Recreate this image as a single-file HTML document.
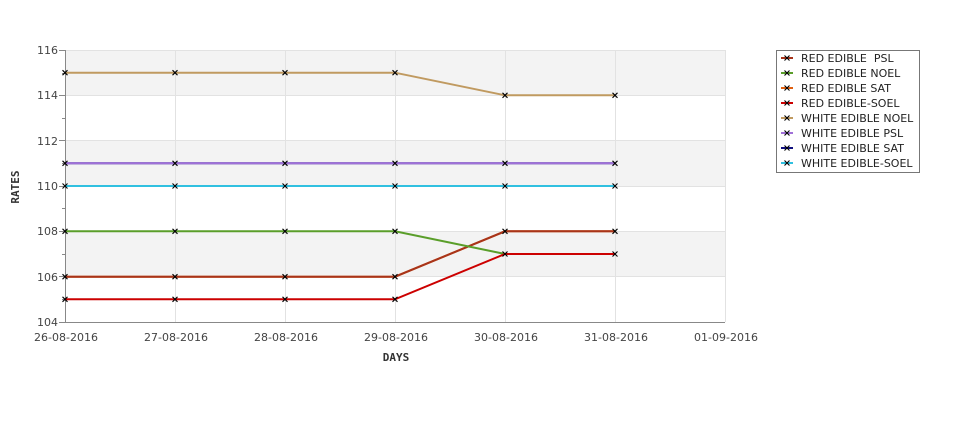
<!DOCTYPE html>
<html><head><meta charset="utf-8"><style>
html,body{margin:0;padding:0;background:#fff;}
svg{display:block;font-family:"DejaVu Sans","Liberation Sans",sans-serif;}
</style></head><body>
<svg width="975" height="429" viewBox="0 0 975 429" xmlns="http://www.w3.org/2000/svg">
<defs>
<g id="m"><path d="M-2.5,-2.5L2.5,2.5M-2.5,2.5L2.5,-2.5" stroke="#000" stroke-width="1.1" fill="none"/></g>
</defs>
<!-- plot background bands -->
<rect x="65" y="50" width="660" height="272" fill="#fff"/>
<rect x="65" y="50" width="660" height="45.3" fill="#f3f3f3"/>
<rect x="65" y="140.7" width="660" height="45.3" fill="#f3f3f3"/>
<rect x="65" y="231.3" width="660" height="45.3" fill="#f3f3f3"/>
<!-- grid -->
<g stroke="#e2e2e2" stroke-width="1" fill="none">
<path d="M65.5,50.5H725.5V322"/>
<path d="M65,95.5H725M65,140.5H725M65,186.5H725M65,231.5H725M65,276.5H725"/>
<path d="M175.5,50V322M285.5,50V322M395.5,50V322M505.5,50V322M615.5,50V322"/>
</g>
<!-- axes -->
<g stroke="#888" stroke-width="1" fill="none">
<path d="M65.5,50V322.5H725"/>
<path d="M59,50.5H65M59,95.5H65M59,140.5H65M59,186.5H65M59,231.5H65M59,276.5H65M59,322.5H65"/>
<path d="M62,73.5H65M62,118.5H65M62,163.5H65M62,208.5H65M62,254.5H65M62,299.5H65"/>
</g>
<!-- y labels -->
<g font-size="11" fill="#444" text-anchor="end">
<text x="58" y="54">116</text>
<text x="58" y="99">114</text>
<text x="58" y="145">112</text>
<text x="58" y="190">110</text>
<text x="58" y="235">108</text>
<text x="58" y="281">106</text>
<text x="58" y="326">104</text>
</g>
<!-- x labels -->
<g font-size="11" fill="#444" text-anchor="middle">
<text x="66" y="341">26-08-2016</text>
<text x="176" y="341">27-08-2016</text>
<text x="286" y="341">28-08-2016</text>
<text x="396" y="341">29-08-2016</text>
<text x="506" y="341">30-08-2016</text>
<text x="616" y="341">31-08-2016</text>
<text x="726" y="341">01-09-2016</text>
</g>
<text x="396" y="361" font-size="11" font-weight="bold" fill="#333" text-anchor="middle" font-family="DejaVu Sans Mono,monospace">DAYS</text>
<text transform="translate(19,187) rotate(-90)" font-size="11" font-weight="bold" fill="#333" text-anchor="middle" font-family="DejaVu Sans Mono,monospace">RATES</text>
<!-- series -->
<g fill="none" stroke-width="2">
<polyline stroke="#e06010" points="65,276.7 175,276.7 285,276.7 395,276.7 505,231.3 615,231.3"/>
<polyline stroke="#a8341a" points="65,276.7 175,276.7 285,276.7 395,276.7 505,231.3 615,231.3"/>
<polyline stroke="#5a9e2a" points="65,231.3 175,231.3 285,231.3 395,231.3 505,254 615,254"/>
<polyline stroke="#cc0000" points="65,299.3 175,299.3 285,299.3 395,299.3 505,254 615,254"/>
<polyline stroke="#c09a60" points="65,72.7 175,72.7 285,72.7 395,72.7 505,95.3 615,95.3"/>
<polyline stroke="#101080" points="65,163.3 175,163.3 285,163.3 395,163.3 505,163.3 615,163.3"/>
<polyline stroke="#a070d8" points="65,163.3 175,163.3 285,163.3 395,163.3 505,163.3 615,163.3"/>
<polyline stroke="#30c0e0" points="65,186 175,186 285,186 395,186 505,186 615,186"/>
</g>
<!-- markers -->
<g>
<use href="#m" x="65" y="72.7"/><use href="#m" x="175" y="72.7"/><use href="#m" x="285" y="72.7"/><use href="#m" x="395" y="72.7"/><use href="#m" x="505" y="95.3"/><use href="#m" x="615" y="95.3"/>
<use href="#m" x="65" y="163.3"/><use href="#m" x="175" y="163.3"/><use href="#m" x="285" y="163.3"/><use href="#m" x="395" y="163.3"/><use href="#m" x="505" y="163.3"/><use href="#m" x="615" y="163.3"/>
<use href="#m" x="65" y="186"/><use href="#m" x="175" y="186"/><use href="#m" x="285" y="186"/><use href="#m" x="395" y="186"/><use href="#m" x="505" y="186"/><use href="#m" x="615" y="186"/>
<use href="#m" x="65" y="231.3"/><use href="#m" x="175" y="231.3"/><use href="#m" x="285" y="231.3"/><use href="#m" x="395" y="231.3"/><use href="#m" x="505" y="231.3"/><use href="#m" x="615" y="231.3"/>
<use href="#m" x="505" y="254"/><use href="#m" x="615" y="254"/>
<use href="#m" x="65" y="276.7"/><use href="#m" x="175" y="276.7"/><use href="#m" x="285" y="276.7"/><use href="#m" x="395" y="276.7"/>
<use href="#m" x="65" y="299.3"/><use href="#m" x="175" y="299.3"/><use href="#m" x="285" y="299.3"/><use href="#m" x="395" y="299.3"/>
</g>
<!-- legend -->
<rect x="776.5" y="50.5" width="143" height="122" fill="#fff" stroke="#777" stroke-width="1"/>
<g stroke-width="2">
<path d="M781,58H793" stroke="#a8341a"/>
<path d="M781,73H793" stroke="#5a9e2a"/>
<path d="M781,88H793" stroke="#e06010"/>
<path d="M781,103H793" stroke="#cc0000"/>
<path d="M781,118H793" stroke="#c09a60"/>
<path d="M781,133H793" stroke="#a070d8"/>
<path d="M781,148H793" stroke="#101080"/>
<path d="M781,163H793" stroke="#30c0e0"/>
</g>
<g>
<use href="#m" x="787" y="58"/><use href="#m" x="787" y="73"/><use href="#m" x="787" y="88"/><use href="#m" x="787" y="103"/>
<use href="#m" x="787" y="118"/><use href="#m" x="787" y="133"/><use href="#m" x="787" y="148"/><use href="#m" x="787" y="163"/>
</g>
<g font-size="11" fill="#222" style="white-space:pre">
<text x="801" y="62" style="white-space:pre">RED EDIBLE  PSL</text>
<text x="801" y="77">RED EDIBLE NOEL</text>
<text x="801" y="92">RED EDIBLE SAT</text>
<text x="801" y="107">RED EDIBLE-SOEL</text>
<text x="801" y="122">WHITE EDIBLE NOEL</text>
<text x="801" y="137">WHITE EDIBLE PSL</text>
<text x="801" y="152">WHITE EDIBLE SAT</text>
<text x="801" y="167">WHITE EDIBLE-SOEL</text>
</g>
</svg>
</body></html>
